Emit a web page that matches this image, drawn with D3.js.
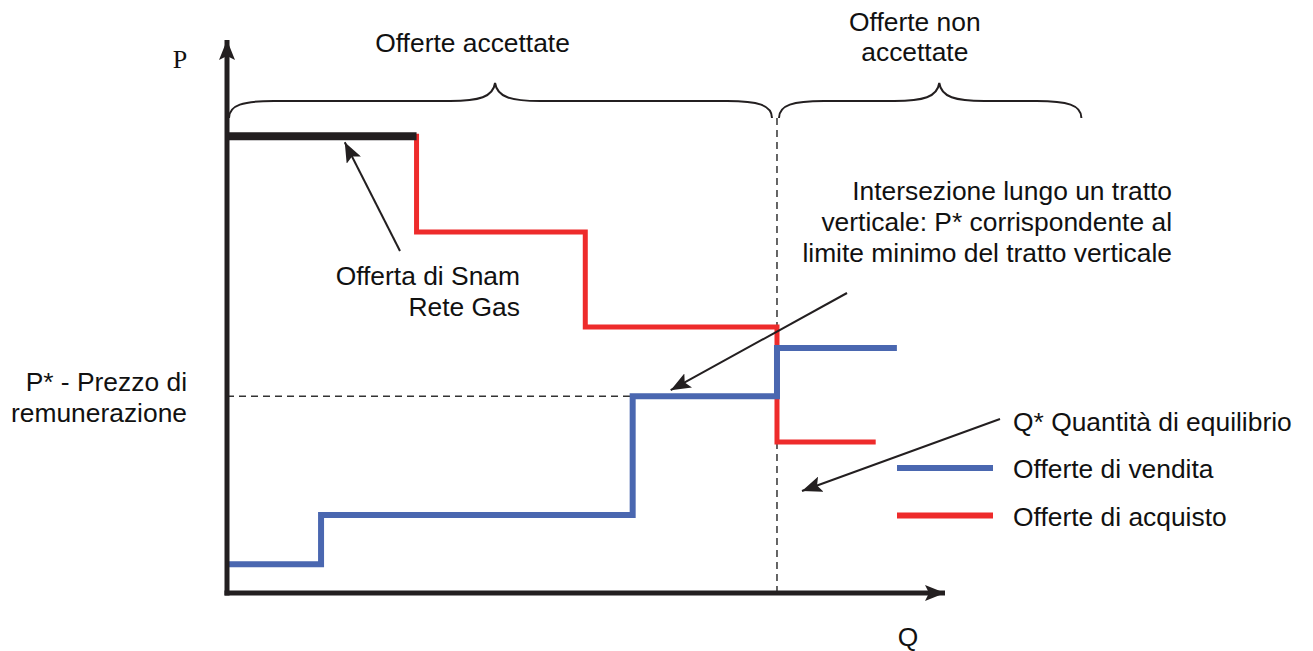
<!DOCTYPE html>
<html>
<head>
<meta charset="utf-8">
<script src="https://cdn.jsdelivr.net/npm/d3@7"></script>
<style>
  body { margin: 0; background: #fff; }
  text { font-family: "Liberation Sans", Arial, sans-serif; font-size: 26.4px; fill: #111; }
  .serif { font-family: "Liberation Serif", "Times New Roman", serif; }
</style>
</head>
<body>
<div id="chart"></div>
<script>
// quantity / price in arbitrary units (0..10)
const sellSteps = [[0, 0.52], [1.31, 1.41], [5.65, 3.56], [7.66, 4.43], [9.33, 4.43]];   // offerte di vendita
const buySteps  = [[2.64, 8.26], [4.99, 6.53], [7.66, 4.81], [9.0, 2.73]];               // offerte di acquisto
const snamOffer = [[0, 8.26], [2.64, 8.26]];                                             // offerta di Snam Rete Gas
const qStar = 7.66, pStar = 3.56;
const braces = [
  { from: 0, to: qStar, tip: 0.49, labelX: 3.42, label: ["Offerte accettate"] },
  { from: qStar, to: 11.9, tip: 0.53, labelX: 9.58, label: ["Offerte non", "accettate"] }
];
const legendItems = [
  { label: "Offerte di vendita", color: "#4a67b0" },
  { label: "Offerte di acquisto", color: "#ee2b2b" }
];
const noteIntersection = ["Intersezione lungo un tratto", "verticale: P* corrispondente al", "limite minimo del tratto verticale"];
const noteSnam = ["Offerta di Snam", "Rete Gas"];
const notePStar = ["P* - Prezzo di", "remunerazione"];
const noteQStar = "Q* Quantità di equilibrio";

const W = 1313, H = 651;
const origin = { x: 227, y: 593 };

const x = d3.scaleLinear().domain([0, 10]).range([origin.x, 945]);
const y = d3.scaleLinear().domain([0, 10]).range([origin.y, 40]);

const svg = d3.select("#chart").append("svg")
    .attr("width", W)
    .attr("height", H);

const defs = svg.append("defs");
defs.append("marker")
    .attr("id", "tip")
    .attr("viewBox", "0 0 20 16")
    .attr("refX", 20).attr("refY", 8)
    .attr("markerWidth", 20).attr("markerHeight", 16)
    .attr("markerUnits", "userSpaceOnUse")
    .attr("orient", "auto")
  .append("path")
    .attr("d", "M0,0 L20,8 L0,16 L4,8 Z")
    .attr("fill", "#231f20");

// dashed guides for P* and Q*
svg.append("line")
    .attr("x1", x(0)).attr("x2", x(5.65))
    .attr("y1", y(pStar)).attr("y2", y(pStar))
    .attr("stroke", "#333").attr("stroke-width", 1.5).attr("stroke-dasharray", "7,5");
svg.append("line")
    .attr("x1", x(qStar)).attr("x2", x(qStar))
    .attr("y1", 118).attr("y2", origin.y)
    .attr("stroke", "#333").attr("stroke-width", 1.5).attr("stroke-dasharray", "7,5");

// step curves
const line = d3.line().x(d => x(d[0])).y(d => y(d[1]));

svg.append("path")
    .datum(buySteps)
    .attr("d", line.curve(d3.curveStepBefore))
    .attr("fill", "none")
    .attr("stroke", legendItems[1].color)
    .attr("stroke-width", 5)
    .attr("stroke-linecap", "square");

svg.append("path")
    .datum(sellSteps)
    .attr("d", line.curve(d3.curveStepAfter))
    .attr("fill", "none")
    .attr("stroke", legendItems[0].color)
    .attr("stroke-width", 6)
    .attr("stroke-linecap", "butt");

svg.append("path")
    .datum(snamOffer)
    .attr("d", line.curve(d3.curveLinear))
    .attr("fill", "none")
    .attr("stroke", "#231f20")
    .attr("stroke-width", 8);

// axes
svg.append("line")
    .attr("x1", origin.x).attr("y1", origin.y + 2.5)
    .attr("x2", origin.x).attr("y2", 40)
    .attr("stroke", "#231f20").attr("stroke-width", 5)
    .attr("marker-end", "url(#tip)");
svg.append("line")
    .attr("x1", origin.x - 2.5).attr("y1", origin.y)
    .attr("x2", 945).attr("y2", origin.y)
    .attr("stroke", "#231f20").attr("stroke-width", 5)
    .attr("marker-end", "url(#tip)");

svg.append("text").attr("class", "serif")
    .attr("x", 180).attr("y", 68).attr("text-anchor", "middle")
    .style("font-size", "26px").text("P");
svg.append("text")
    .attr("x", 908).attr("y", 646).attr("text-anchor", "middle").text("Q");

// braces above the chart
function bracePath(xa, xb, t) {
  const xm = xa + (xb - xa) * t, y0 = 118, y1 = 101, y2 = 83;
  return `M${xa},${y0} C${xa},${y1 + 4} ${xa + 14},${y1} ${xa + 45},${y1}` +
         ` L${xm - 45},${y1} C${xm - 16},${y1} ${xm - 2},${y1 - 4} ${xm},${y2}` +
         ` C${xm + 2},${y1 - 4} ${xm + 16},${y1} ${xm + 45},${y1}` +
         ` L${xb - 45},${y1} C${xb - 14},${y1} ${xb},${y1 + 4} ${xb},${y0}`;
}

const braceG = svg.selectAll(".brace")
    .data(braces)
    .enter().append("g")
    .attr("class", "brace");

braceG.append("path")
    .attr("d", d => bracePath(x(d.from) + 2, x(d.to) - (d.from === 0 ? 5 : 0), d.tip))
    .attr("fill", "none")
    .attr("stroke", "#231f20")
    .attr("stroke-width", 2);

braceG.each(function (d) {
  const base = d.label.length === 1 ? 52 : 31;
  d3.select(this).selectAll("text")
    .data(d.label)
    .enter().append("text")
    .attr("x", x(d.labelX))
    .attr("y", (t, i) => base + i * 30)
    .attr("text-anchor", "middle")
    .text(t => t);
});

// annotations with arrows
function noteBlock(lines, xRight, yFirst, anchor) {
  svg.selectAll(null)
    .data(lines)
    .enter().append("text")
    .attr("x", xRight)
    .attr("y", (t, i) => yFirst + i * 31)
    .attr("text-anchor", anchor || "end")
    .text(t => t);
}

function arrow(x1, y1, x2, y2) {
  svg.append("line")
    .attr("x1", x1).attr("y1", y1)
    .attr("x2", x2).attr("y2", y2)
    .attr("stroke", "#231f20").attr("stroke-width", 2)
    .attr("marker-end", "url(#tip)");
}

noteBlock(noteIntersection, 1172, 200);
arrow(847, 293, x(5.65) + 38, y(pStar) - 6);

noteBlock(noteSnam, 520, 285);
arrow(400, 251, x(1.64), y(8.26) + 6);

noteBlock(notePStar, 187, 391);

svg.append("text")
    .attr("x", 1013).attr("y", 431)
    .text(noteQStar);
arrow(1000, 419, x(qStar) + 25, 491);

// legend
const legend = svg.selectAll(".legend")
    .data(legendItems)
    .enter().append("g")
    .attr("class", "legend")
    .attr("transform", (d, i) => "translate(897," + (468 + i * 47.5) + ")");

legend.append("line")
    .attr("x1", 0).attr("x2", 96)
    .attr("stroke", d => d.color)
    .attr("stroke-width", 6);

legend.append("text")
    .attr("x", 116).attr("y", 10)
    .text(d => d.label);
</script>
</body>
</html>
